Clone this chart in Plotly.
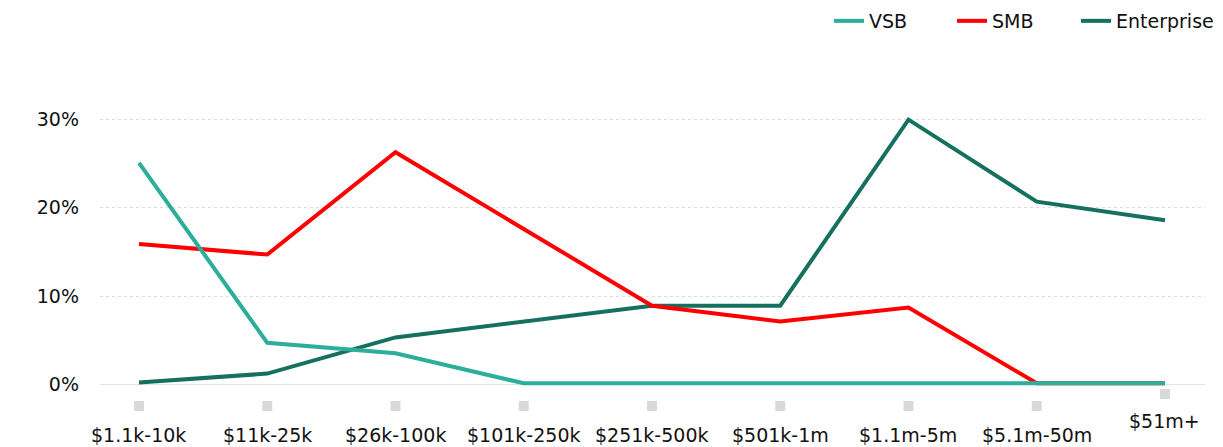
import plotly.graph_objects as go

categories = ["$1.1k-10k", "$11k-25k", "$26k-100k", "$101k-250k", "$251k-500k",
              "$501k-1m", "$1.1m-5m", "$5.1m-50m", "$51m+"]
vsb = [25.1, 4.7, 3.5, 0.1, 0.1, 0.1, 0.1, 0.1, 0.1]
smb = [15.9, 14.7, 26.3, 17.6, 8.9, 7.1, 8.7, 0.1, 0.1]
enterprise = [0.2, 1.2, 5.3, 7.1, 8.9, 8.9, 30.0, 20.7, 18.6]
y_ticks = [0, 10, 20, 30]
y_tick_text = ["0%", "10%", "20%", "30%"]

FONT = "DejaVu Sans"
TXT = "#111111"
W, H = 1215, 439  # page body has an 8px margin
fig = go.Figure()
fig.add_trace(go.Scatter(x=categories, y=enterprise, name="Enterprise", mode="lines",
                         line=dict(color="#16705F", width=4), legend="legend3"))
fig.add_trace(go.Scatter(x=categories, y=smb, name="SMB", mode="lines",
                         line=dict(color="#FF0000", width=4), legend="legend2"))
fig.add_trace(go.Scatter(x=categories, y=vsb, name="VSB", mode="lines",
                         line=dict(color="#2BAE9A", width=4), legend="legend"))

shapes = []
annotations = []
for i, c in enumerate(categories):
    last = i == len(categories) - 1
    cy = -1 if last else -13
    shapes.append(dict(type="rect", xref="x", xsizemode="pixel", xanchor=i, x0=-5, x1=5,
                       yref="paper", ysizemode="pixel", yanchor=0, y0=cy - 5, y1=cy + 5,
                       fillcolor="#D9D9D9", line=dict(width=0), layer="above"))
    annotations.append(dict(text=c, x=c, xref="x", y=0, yref="paper", yanchor="middle",
                            yshift=-28 if last else -42, showarrow=False,
                            font=dict(family=FONT, size=19, color=TXT)))


def leg(xpx):
    return dict(orientation="h", xref="container", yref="container", x=xpx / W, xanchor="left",
                y=1 - 13 / H, yanchor="middle", font=dict(family=FONT, size=19, color=TXT),
                bgcolor="rgba(0,0,0,0)")


fig.update_layout(
    width=W, height=H,
    margin=dict(l=92, r=18, t=94, b=54),
    paper_bgcolor="white", plot_bgcolor="white",
    font=dict(family=FONT, size=19, color=TXT),
    showlegend=True,
    legend=leg(821), legend2=leg(944), legend3=leg(1068),
    xaxis=dict(range=[-0.304, 8.312], showgrid=False, showticklabels=False, ticks="",
               showline=False, zeroline=False),
    yaxis=dict(range=[-1, 32], tickvals=y_ticks, ticktext=y_tick_text, ticks="",
               showgrid=True, gridcolor="#DDDDDD", griddash="dot", gridwidth=1,
               zeroline=True, zerolinecolor="#E3E3E3", zerolinewidth=1,
               showline=False, ticklabelstandoff=20,
               tickfont=dict(family=FONT, size=19, color=TXT)),
    shapes=shapes, annotations=annotations,
)
fig.write_html("out.html")
